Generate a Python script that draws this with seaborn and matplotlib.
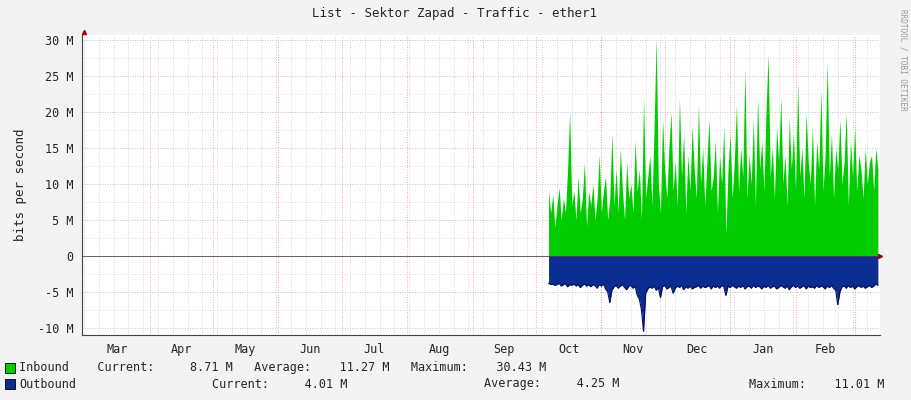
import numpy as np
import pandas as pd
import matplotlib
matplotlib.use('Agg')
import matplotlib.pyplot as plt
import seaborn as sns

# day numbers counted from Mar 1
month_names = ['Mar', 'Apr', 'May', 'Jun', 'Jul', 'Aug', 'Sep', 'Oct', 'Nov', 'Dec', 'Jan', 'Feb']
month_starts = [0, 31, 61, 92, 122, 153, 184, 214, 245, 275, 306, 337, 365]

start_day = 220
inbound = [9, 6, 8.5, 4, 7, 9.5, 5, 8, 6, 12,
           20, 7, 9, 5, 11, 6, 8, 13, 4, 9,
           7, 10, 5, 8, 14, 6, 9, 11, 5, 8,
           17, 7, 12, 6, 15, 9, 5, 13, 8, 10,
           6, 16, 9, 12, 5, 22, 8, 11, 14, 7,
           18, 30.4, 10, 6, 19, 12, 8, 15, 20, 9,
           13, 7, 22, 11, 17, 6, 14, 9, 18, 12,
           8, 21, 10, 15, 7, 13, 19, 9, 11, 16,
           6, 14, 10, 18, 3, 12, 17, 8, 13, 21,
           9, 15, 11, 26, 8, 14, 10, 19, 7, 22,
           12, 16, 9, 20, 28, 11, 15, 8, 18, 13,
           22, 10, 14, 7, 19, 12, 17, 9, 24, 11,
           15, 8, 20, 13, 10, 18, 7, 16, 12, 23,
           9, 14, 27, 11, 17, 8, 15, 12, 19, 10,
           13, 20, 7, 16, 11, 18, 9, 14, 12, 8,
           15, 10, 13, 14, 9, 15, 12]
outbound = [-3.8, -4, -3.9, -4.1, -4, -3.8, -4.2, -4, -3.9, -4.3,
            -4, -4.1, -3.9, -4.2, -4, -4.4, -4.1, -3.9, -4.2, -4,
            -4.3, -4, -4.1, -4.5, -4, -4.2, -3.9, -4.6, -5, -6.5,
            -4.8, -4.3, -4.1, -4.5, -4.2, -4, -4.4, -4.7, -4.2, -4.1,
            -4.5, -4.2, -5.5, -6, -7.5, -10.5, -5.2, -4.6, -4.3, -4.5,
            -4.2, -4.8, -4.4, -5.8, -4.3, -4.1, -4.6, -4.4, -4.2, -5.2,
            -4.5, -4.2, -4.4, -4.1, -4.7, -4.3, -4.5, -4.2, -4.6, -4.4,
            -4.3, -4.1, -4.5, -4.2, -4.4, -4.3, -4.1, -4.6, -4.2, -4.4,
            -4.2, -4.5, -4.1, -4.3, -5.5, -4.2, -4.4, -4.1, -4.3, -4.5,
            -4.2, -4.4, -4.1, -4.6, -4.3, -4.2, -4.5, -4.1, -4.4, -4.2,
            -4.3, -4.6, -4.2, -4.4, -4.1, -4.5, -4.3, -4.2, -4.6, -4.4,
            -4.1, -4.3, -4.5, -4.2, -4.7, -4.3, -4.1, -4.4, -4.2, -4.5,
            -4.3, -4.1, -4.6, -4.2, -4.4, -4.3, -4.5, -4.1, -4.4, -4.2,
            -4.3, -4.6, -4.2, -4.4, -4.1, -4.5, -4.8, -6.8, -5, -4.3,
            -4.2, -4.5, -4.1, -4.4, -4.2, -4.6, -4.3, -4.1, -4.4, -4.2,
            -4.5, -4.3, -4.1, -4.4, -4.2, -3.9, -4.1]
y_ticks = [-10, -5, 0, 5, 10, 15, 20, 25, 30]

df = pd.DataFrame({'day': np.arange(start_day, start_day + len(inbound)),
                   'inbound': inbound, 'outbound': outbound})

sns.set_style('white')
plt.rcParams['font.family'] = ['DejaVu Sans Mono']
W, H = 911, 400
fig = plt.figure(figsize=(W / 100, H / 100), dpi=100, facecolor='#F3F3F3')
ax = fig.add_axes([82 / W, (H - 335) / H, 798 / W, 300 / H], facecolor='white')

ax.fill_between(df['day'], 0, df['inbound'], color='#00CC00', lw=0, zorder=2)
ax.fill_between(df['day'], 0, df['outbound'], color='#0A2D8F', lw=0, zorder=2)
sns.lineplot(data=df, x='day', y='outbound', ax=ax, color='#00115A', lw=0.8, zorder=3)

ax.set_xlim(-1, 377)
ax.set_ylim(-11, 30.7)

# grid
for d in range(0, 378, 7):
    ax.axvline(d, color='#C8C8C8', lw=0.6, ls=(0, (1, 2)), zorder=1)
for d in month_starts[1:]:
    ax.axvline(d, color='#FF8080', lw=0.6, ls=(0, (1, 2)), zorder=1)
for v in np.arange(-10, 31, 2.5):
    ax.axhline(v, color='#D8D8D8', lw=0.6, ls=(0, (1, 2)), zorder=1)
for v in y_ticks:
    ax.axhline(v, color='#C0C0C0', lw=0.6, ls=(0, (1, 2)), zorder=1)

mids = [(month_starts[i] + month_starts[i + 1]) / 2 for i in range(12)]
ax.set_xticks(mids)
ax.set_xticklabels(month_names, fontsize=8.5)
ax.set_yticks(y_ticks)
ax.set_yticklabels([f'{v} M' if v != 0 else '0' for v in y_ticks], fontsize=8.5)
ax.tick_params(length=0, pad=6)
ax.set_xlabel('')
ax.set_ylabel('bits per second', fontsize=9, labelpad=8)
for s in ['top', 'right']:
    ax.spines[s].set_visible(False)
for s in ['left', 'bottom']:
    ax.spines[s].set_color('#444444')
    ax.spines[s].set_linewidth(0.8)
ax.plot(1, 0, '>', color='#A00000', ms=3, transform=ax.get_yaxis_transform(), clip_on=False)
ax.plot(0, 1.01, '^', color='#A00000', ms=3, transform=ax.get_xaxis_transform(), clip_on=False)
ax.axhline(0, color='#333333', lw=0.5, zorder=4)

fig.text(455 / W, 1 - 14 / H, 'List - Sektor Zapad - Traffic - ether1', ha='center', va='center', fontsize=9)
fig.text(903 / W, 1 - 60 / H, 'RRDTOOL / TOBI OETIKER', rotation=270, ha='center', va='center',
         fontsize=5.5, color='#999999')

fig.patches.append(plt.Rectangle((5 / W, 1 - 373 / H), 10 / W, 10 / H, transform=fig.transFigure,
                                 facecolor='#00CC00', edgecolor='black', lw=0.6))
fig.patches.append(plt.Rectangle((5 / W, 1 - 389 / H), 10 / W, 10 / H, transform=fig.transFigure,
                                 facecolor='#0A2D8F', edgecolor='black', lw=0.6))
fig.text(19 / W, 1 - 368 / H,
         'Inbound    Current:     8.71 M   Average:    11.27 M   Maximum:    30.43 M',
         va='center', fontsize=8.5)
fig.text(19 / W, 1 - 384 / H, 'Outbound', va='center', fontsize=8.5)
fig.text(212 / W, 1 - 384 / H, 'Current:     4.01 M', va='center', fontsize=8.5)
fig.text(484 / W, 1 - 384 / H, 'Average:     4.25 M', va='center', fontsize=8.5)
fig.text(749 / W, 1 - 384 / H, 'Maximum:    11.01 M', va='center', fontsize=8.5)

fig.savefig('out.png', dpi=100, facecolor=fig.get_facecolor())
